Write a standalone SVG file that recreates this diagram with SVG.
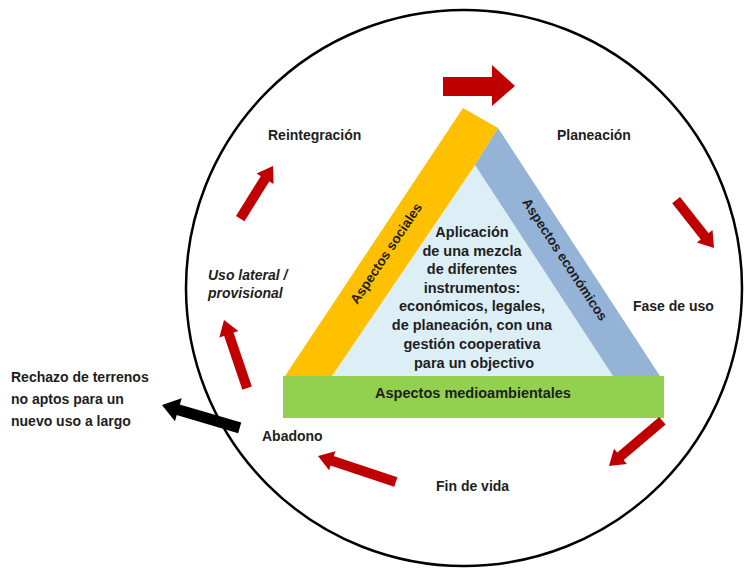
<svg xmlns="http://www.w3.org/2000/svg" width="744" height="569" viewBox="0 0 744 569">
  <style>
    .lbl { font-family: "Liberation Sans", Arial, sans-serif; font-weight: bold; font-size: 14px; fill: #1e1e1e; }
    .mid { text-anchor: middle; }
    .it { font-style: italic; }
    .band { font-size: 13.5px; }
    .red { fill: #C00000; }
    .blk { fill: #000000; }
  </style>
  <defs>
    <!-- small block arrow head pointing along +x, tip at origin -->
    <polygon id="arrowHead" points="0,0 -15,-10 -15,10"/>
  </defs>
  <rect width="744" height="569" fill="#ffffff"/>

  <!-- outer life-cycle circle -->
  <g id="cycle">
    <circle cx="464" cy="288" r="278" fill="none" stroke="#000" stroke-width="2.5"/>
  </g>

  <!-- central triangle -->
  <g id="triangle">
    <polygon points="475,165 332,376 613,376" fill="#DCEEF6"/>
    <polygon points="285,376 463,108 498,128 475,165 332,376" fill="#FFC000"/>
    <polygon points="498,128 660,376 613,376 475,165" fill="#95B3D7"/>
  </g>
  <g id="social">
    <text class="lbl mid band" transform="translate(390,256) rotate(-56.3)">Aspectos sociales</text>
  </g>
  <g id="economic">
    <text class="lbl mid band" transform="translate(561,262) rotate(56.7)">Aspectos económicos</text>
  </g>
  <g id="environment">
    <rect x="283" y="376" width="381" height="42" fill="#92D050"/>
    <text class="lbl mid" x="473" y="398" style="font-size:14.5px">Aspectos medioambientales</text>
  </g>
  <g id="center-text">
    <text class="lbl mid" style="font-size:14.5px">
      <tspan x="474" y="237">Aplicación</tspan>
      <tspan x="474" y="255.5">de una mezcla</tspan>
      <tspan x="474" y="274">de diferentes</tspan>
      <tspan x="474" y="292.5">instrumentos:</tspan>
      <tspan x="474" y="311">económicos, legales,</tspan>
      <tspan x="474" y="330">de planeación, con una</tspan>
      <tspan x="474" y="349">gestión cooperativa</tspan>
      <tspan x="474" y="368">para un objectivo</tspan>
    </text>
  </g>

  <!-- phase labels -->
  <g id="reintegracion"><text class="lbl" x="268" y="140">Reintegración</text></g>
  <g id="planeacion"><text class="lbl" x="557" y="140">Planeación</text></g>
  <g id="fase-uso"><text class="lbl" x="633" y="311">Fase de uso</text></g>
  <g id="fin-vida"><text class="lbl" x="436" y="491">Fin de vida</text></g>
  <g id="abadono"><text class="lbl" x="262" y="441">Abadono</text></g>
  <g id="uso-lateral">
    <text class="lbl it"><tspan x="208" y="280">Uso lateral /</tspan><tspan x="208" y="298">provisional</tspan></text>
  </g>
  <g id="rechazo">
    <text class="lbl"><tspan x="11" y="382">Rechazo de terrenos</tspan><tspan x="11" y="404">no aptos para un</tspan><tspan x="11" y="426">nuevo uso a largo</tspan></text>
  </g>

  <!-- cycle arrows -->
  <g id="connectors">
    <polygon class="red" points="443,77 492,77 492,65 515,86 492,106 492,96 443,96"/>
    <g class="red" transform="translate(714,248) rotate(51.6)">
      <rect x="-61" y="-5" width="47" height="10"/><use href="#arrowHead"/>
    </g>
    <g class="red" transform="translate(609,466) rotate(139.7)">
      <rect x="-70" y="-5" width="56" height="10"/><use href="#arrowHead"/>
    </g>
    <g class="red" transform="translate(318,456) rotate(-161.6)">
      <rect x="-82" y="-5" width="68" height="10"/><use href="#arrowHead"/>
    </g>
    <g class="red" transform="translate(224,320) rotate(-108.7)">
      <rect x="-72" y="-5" width="58" height="10"/><use href="#arrowHead"/>
    </g>
    <g class="red" transform="translate(273,166) rotate(-58.1)">
      <rect x="-62" y="-5" width="48" height="10"/><use href="#arrowHead"/>
    </g>
    <g class="blk" transform="translate(162,405) rotate(-163.6)">
      <rect x="-81" y="-5.5" width="66" height="11"/><polygon points="0,0 -17,-12 -17,12"/>
    </g>
  </g>
</svg>
